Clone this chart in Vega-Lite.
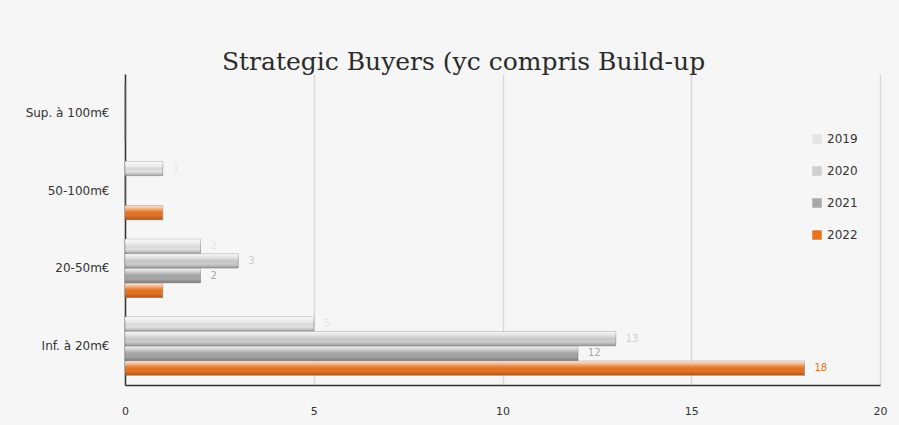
{
  "$schema": "https://vega.github.io/schema/vega-lite/v6.json",
  "autosize": {"type": "none"},
  "width": 755,
  "height": 311,
  "padding": {"left": 125, "top": 74, "right": 19, "bottom": 40},
  "background": "#f6f6f6",
  "config": {
    "view": {"stroke": null},
    "font": "DejaVu Sans"
  },
  "title": {
    "text": "Strategic Buyers (yc compris Build-up",
    "font": "DejaVu Serif",
    "fontSize": 25,
    "fontWeight": "normal",
    "color": "#2b2b2b",
    "anchor": "middle",
    "dx": -39,
    "dy": 21,
    "offset": 0,
    "baseline": "alphabetic"
  },
  "data": {
    "values": [
      {"category": "Sup. à 100m€", "year": "2019", "value": 0},
      {"category": "Sup. à 100m€", "year": "2020", "value": 0},
      {"category": "Sup. à 100m€", "year": "2021", "value": 0},
      {"category": "Sup. à 100m€", "year": "2022", "value": 0},
      {"category": "50-100m€", "year": "2019", "value": 1},
      {"category": "50-100m€", "year": "2020", "value": 0},
      {"category": "50-100m€", "year": "2021", "value": 0},
      {"category": "50-100m€", "year": "2022", "value": 1},
      {"category": "20-50m€", "year": "2019", "value": 2},
      {"category": "20-50m€", "year": "2020", "value": 3},
      {"category": "20-50m€", "year": "2021", "value": 2},
      {"category": "20-50m€", "year": "2022", "value": 1},
      {"category": "Inf. à 20m€", "year": "2019", "value": 5},
      {"category": "Inf. à 20m€", "year": "2020", "value": 13},
      {"category": "Inf. à 20m€", "year": "2021", "value": 12},
      {"category": "Inf. à 20m€", "year": "2022", "value": 18}
    ]
  },
  "encoding": {
    "y": {
      "field": "category",
      "type": "nominal",
      "sort": ["Sup. à 100m€", "50-100m€", "20-50m€", "Inf. à 20m€"],
      "scale": {"paddingInner": 0.25, "paddingOuter": 0.125},
      "axis": {
        "title": null,
        "ticks": false,
        "labelPadding": 16,
        "labelFontSize": 12,
        "labelColor": "#333333",
        "domainColor": "#333333",
        "domainWidth": 1.5,
        "grid": false
      }
    },
    "yOffset": {
      "field": "year",
      "type": "nominal",
      "sort": ["2019", "2020", "2021", "2022"],
      "scale": {"paddingInner": 0.04}
    },
    "x": {
      "field": "value",
      "type": "quantitative",
      "scale": {"domain": [0, 20], "nice": false},
      "axis": {
        "title": null,
        "values": [0, 5, 10, 15, 20],
        "ticks": false,
        "labelFlush": false,
        "labelPadding": 20,
        "labelFontSize": 11,
        "labelColor": "#333333",
        "domainColor": "#333333",
        "domainWidth": 1.5,
        "grid": true,
        "gridColor": "#d9d9d9",
        "gridWidth": 1.5
      }
    }
  },
  "layer": [
    {
      "mark": {"type": "bar", "stroke": "#7a7a7a", "strokeWidth": 0.5},
      "encoding": {
        "color": {
          "field": "year",
          "type": "nominal",
          "scale": {
            "domain": ["2019", "2020", "2021", "2022"],
            "range": ["#e4e4e4", "#cfcfcf", "#a8a8a8", "#e8731f"]
          },
          "legend": {
            "title": null,
            "orient": "none",
            "legendX": 686,
            "legendY": 59,
            "symbolType": "square",
            "symbolSize": 90,
            "symbolStrokeWidth": 0,
            "labelFontSize": 12,
            "labelColor": "#333333",
            "rowPadding": 20,
            "labelOffset": 4
          }
        }
      }
    },
    {
      "mark": {
        "type": "bar",
        "color": {
          "gradient": "linear",
          "x1": 0, "y1": 0, "x2": 0, "y2": 1,
          "stops": [
            {"offset": 0, "color": "rgba(255,255,255,0.85)"},
            {"offset": 0.35, "color": "rgba(255,255,255,0.2)"},
            {"offset": 0.7, "color": "rgba(0,0,0,0.0)"},
            {"offset": 1, "color": "rgba(0,0,0,0.25)"}
          ]
        }
      }
    },
    {
      "transform": [{"filter": "datum.value > 0 && (datum.year != '2022' || datum.value > 1)"}],
      "mark": {"type": "text", "align": "left", "dx": 10, "fontSize": 10},
      "encoding": {
        "text": {"field": "value", "type": "quantitative"},
        "color": {"field": "year", "type": "nominal", "legend": null}
      }
    }
  ]
}
